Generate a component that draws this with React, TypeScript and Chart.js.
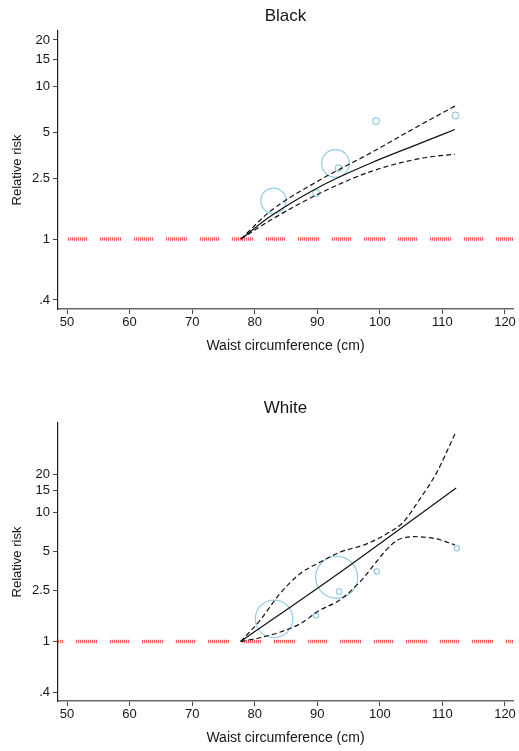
import React, { useEffect, useRef } from 'react';
import { Chart, registerables } from 'chart.js';

Chart.register(...registerables);

const FONT = "'Liberation Sans', Arial, Helvetica, sans-serif";
const TEXT = '#151515';

// Axes
const X_MIN = 48.56;
const X_MAX = 121.28;
const xTicks = [50, 60, 70, 80, 90, 100, 110, 120];
const yTicks = [0.4, 1, 2.5, 5, 10, 15, 20];
const yTickLabels = ['.4', '1', '2.5', '5', '10', '15', '20'];
const xTitle = 'Waist circumference (cm)';
const yTitle = 'Relative risk';

// Black panel
const blackX = [77.8, 82.4, 90.4, 98.4, 106.4, 112];
const blackRR = [1, 1.4, 2.2, 3.12, 4.22, 5.2];
const blackUpper = [1, 1.51, 2.43, 3.63, 5.55, 7.4];
const blackLower = [1, 1.32, 1.99, 2.75, 3.36, 3.59];
const blackPtX = [83.0, 92.9, 93.4, 89.8, 99.4, 112.1];
const blackPtRR = [1.78, 3.12, 2.91, 2.0, 5.9, 6.42];
const blackPtSize = [12.7, 13.8, 3.3, 3.3, 3.3, 3.3];

// White panel
const whiteX = [77.75, 93.1, 112.2];
const whiteRR = [1, 3.3, 15.6];
const whiteUpperX = [77.75, 80.8, 84.0, 87.2, 90.4, 93.6, 97.9, 101.6, 103.7, 106.4, 109.1, 112.1];
const whiteUpper = [1, 1.45, 2.34, 3.35, 4.12, 4.93, 5.73, 7.1, 8.42, 12.8, 20.6, 42];
const whiteLowerX = [77.75, 80.8, 84.0, 87.2, 90.4, 93.6, 96.8, 98.9, 100.8, 102.7, 105.3, 109.1, 112.0];
const whiteLower = [1, 1.07, 1.18, 1.37, 1.75, 2.1, 2.9, 3.85, 5.0, 6.07, 6.52, 6.26, 5.62];
const whitePtX = [83.1, 93.1, 93.5, 89.8, 99.5, 112.3];
const whitePtRR = [1.5, 3.15, 2.44, 1.59, 3.49, 5.29];
const whitePtSize = [18.8, 21, 2.7, 2.7, 2.7, 2.7];

type Line = { xs: number[]; ys: number[]; dashed: boolean };

type PanelProps = {
  title: string;
  height: number;
  yMin: number;
  yMax: number;
  lines: Line[];
  ptX: number[];
  ptY: number[];
  ptR: number[];
  rugOffset: number;
};

function Panel({ title, height, yMin, yMax, lines, ptX, ptY, ptR, rugOffset }: PanelProps) {
  const ref = useRef<HTMLCanvasElement>(null);

  useEffect(() => {
    const canvas = ref.current!;
    const ctx = canvas.getContext('2d')!;

    const pc = document.createElement('canvas');
    pc.width = 2;
    pc.height = 1;
    const pctx = pc.getContext('2d')!;
    pctx.fillStyle = 'rgba(235,40,50,0.75)';
    pctx.fillRect(0, 0, 1, 1);
    pctx.fillStyle = 'rgba(255,180,180,0.25)';
    pctx.fillRect(1, 0, 1, 1);
    const rug = ctx.createPattern(pc, 'repeat');

    const datasets: any[] = lines.map((l) => ({
      type: 'line',
      data: l.xs.map((x, i) => ({ x, y: l.ys[i] })),
      borderColor: '#111',
      borderWidth: 1.2,
      borderDash: l.dashed ? [5, 3] : [],
      pointRadius: 0,
      cubicInterpolationMode: 'monotone',
      fill: false,
      order: 0,
    }));
    datasets.push({
      type: 'bubble',
      data: ptX.map((x, i) => ({ x, y: ptY[i], r: ptR[i] })),
      backgroundColor: 'rgba(0,0,0,0)',
      borderColor: 'rgb(150,205,226)',
      borderWidth: 1.2,
      order: 1,
    });
    datasets.push({
      type: 'line',
      data: [
        { x: X_MIN, y: 1 },
        { x: X_MAX, y: 1 },
      ],
      borderColor: rug,
      borderWidth: 3.5,
      borderDash: [21, 12],
      borderDashOffset: rugOffset,
      pointRadius: 0,
      fill: false,
      order: 2,
    });

    const gridOpts = { drawOnChartArea: false, drawTicks: true, tickLength: 5, color: '#444' };

    const chart = new Chart(ctx, {
      type: 'line',
      data: { datasets },
      options: {
        animation: false,
        responsive: false,
        events: [],
        layout: { autoPadding: false, padding: { left: 0, right: 6, top: 0, bottom: 0 } },
        plugins: {
          legend: { display: false },
          tooltip: { enabled: false },
          title: {
            display: true,
            text: title,
            color: TEXT,
            fullSize: false,
            font: { family: FONT, size: 17, weight: 'normal', lineHeight: 1.2 },
            padding: { top: 6, bottom: 4.6 },
          },
        },
        scales: {
          x: {
            type: 'linear',
            bounds: 'data',
            min: X_MIN,
            max: X_MAX,
            afterBuildTicks: (s: any) => {
              s.ticks = xTicks.map((v) => ({ value: v }));
            },
            afterFit: (s: any) => {
              s.height = height - 309;
              s.paddingLeft = 0;
              s.paddingRight = 0;
            },
            ticks: {
              font: { family: FONT, size: 13 },
              color: TEXT,
              padding: 1,
              maxRotation: 0,
              autoSkip: false,
            },
            grid: gridOpts,
            border: { display: true, color: '#666', width: 1.5 },
            title: {
              display: true,
              text: xTitle,
              color: TEXT,
              font: { family: FONT, size: 14, lineHeight: 1.2 },
              padding: { top: 0, bottom: height - 354.4 },
            },
          },
          y: {
            type: 'logarithmic',
            bounds: 'data',
            min: yMin,
            max: yMax,
            afterBuildTicks: (s: any) => {
              s.ticks = yTicks.map((v) => ({ value: v }));
            },
            afterFit: (s: any) => {
              s.width = 58;
              s.paddingTop = 0;
              s.paddingBottom = 0;
            },
            ticks: {
              font: { family: FONT, size: 13 },
              color: TEXT,
              padding: 3,
              autoSkip: false,
              callback: (v: any) => {
                const i = yTicks.indexOf(Number(v));
                return i >= 0 ? yTickLabels[i] : '';
              },
            },
            grid: gridOpts,
            border: { display: true, color: '#222', width: 1.2 },
            title: {
              display: true,
              text: yTitle,
              color: TEXT,
              font: { family: FONT, size: 13, lineHeight: 1.2 },
              padding: { top: 10, bottom: 0 },
            },
          },
        },
      } as any,
    });

    return () => chart.destroy();
  }, []);

  return <canvas ref={ref} width={519} height={height} style={{ display: 'block' }} />;
}

export default function App() {
  return (
    <div
      style={{
        position: 'absolute',
        left: 0,
        top: 0,
        width: 519,
        height: 751,
        overflow: 'hidden',
        background: '#fff',
      }}
    >
      <Panel
        title="Black"
        height={392}
        yMin={0.349}
        yMax={22.9}
        lines={[
          { xs: blackX, ys: blackRR, dashed: false },
          { xs: blackX, ys: blackUpper, dashed: true },
          { xs: blackX, ys: blackLower, dashed: true },
        ]}
        ptX={blackPtX}
        ptY={blackPtRR}
        ptR={blackPtSize}
        rugOffset={24}
      />
      <Panel
        title="White"
        height={359}
        yMin={0.345}
        yMax={49.8}
        lines={[
          { xs: whiteX, ys: whiteRR, dashed: false },
          { xs: whiteUpperX, ys: whiteUpper, dashed: true },
          { xs: whiteLowerX, ys: whiteLower, dashed: true },
        ]}
        ptX={whitePtX}
        ptY={whitePtRR}
        ptR={whitePtSize}
        rugOffset={15}
      />
    </div>
  );
}
